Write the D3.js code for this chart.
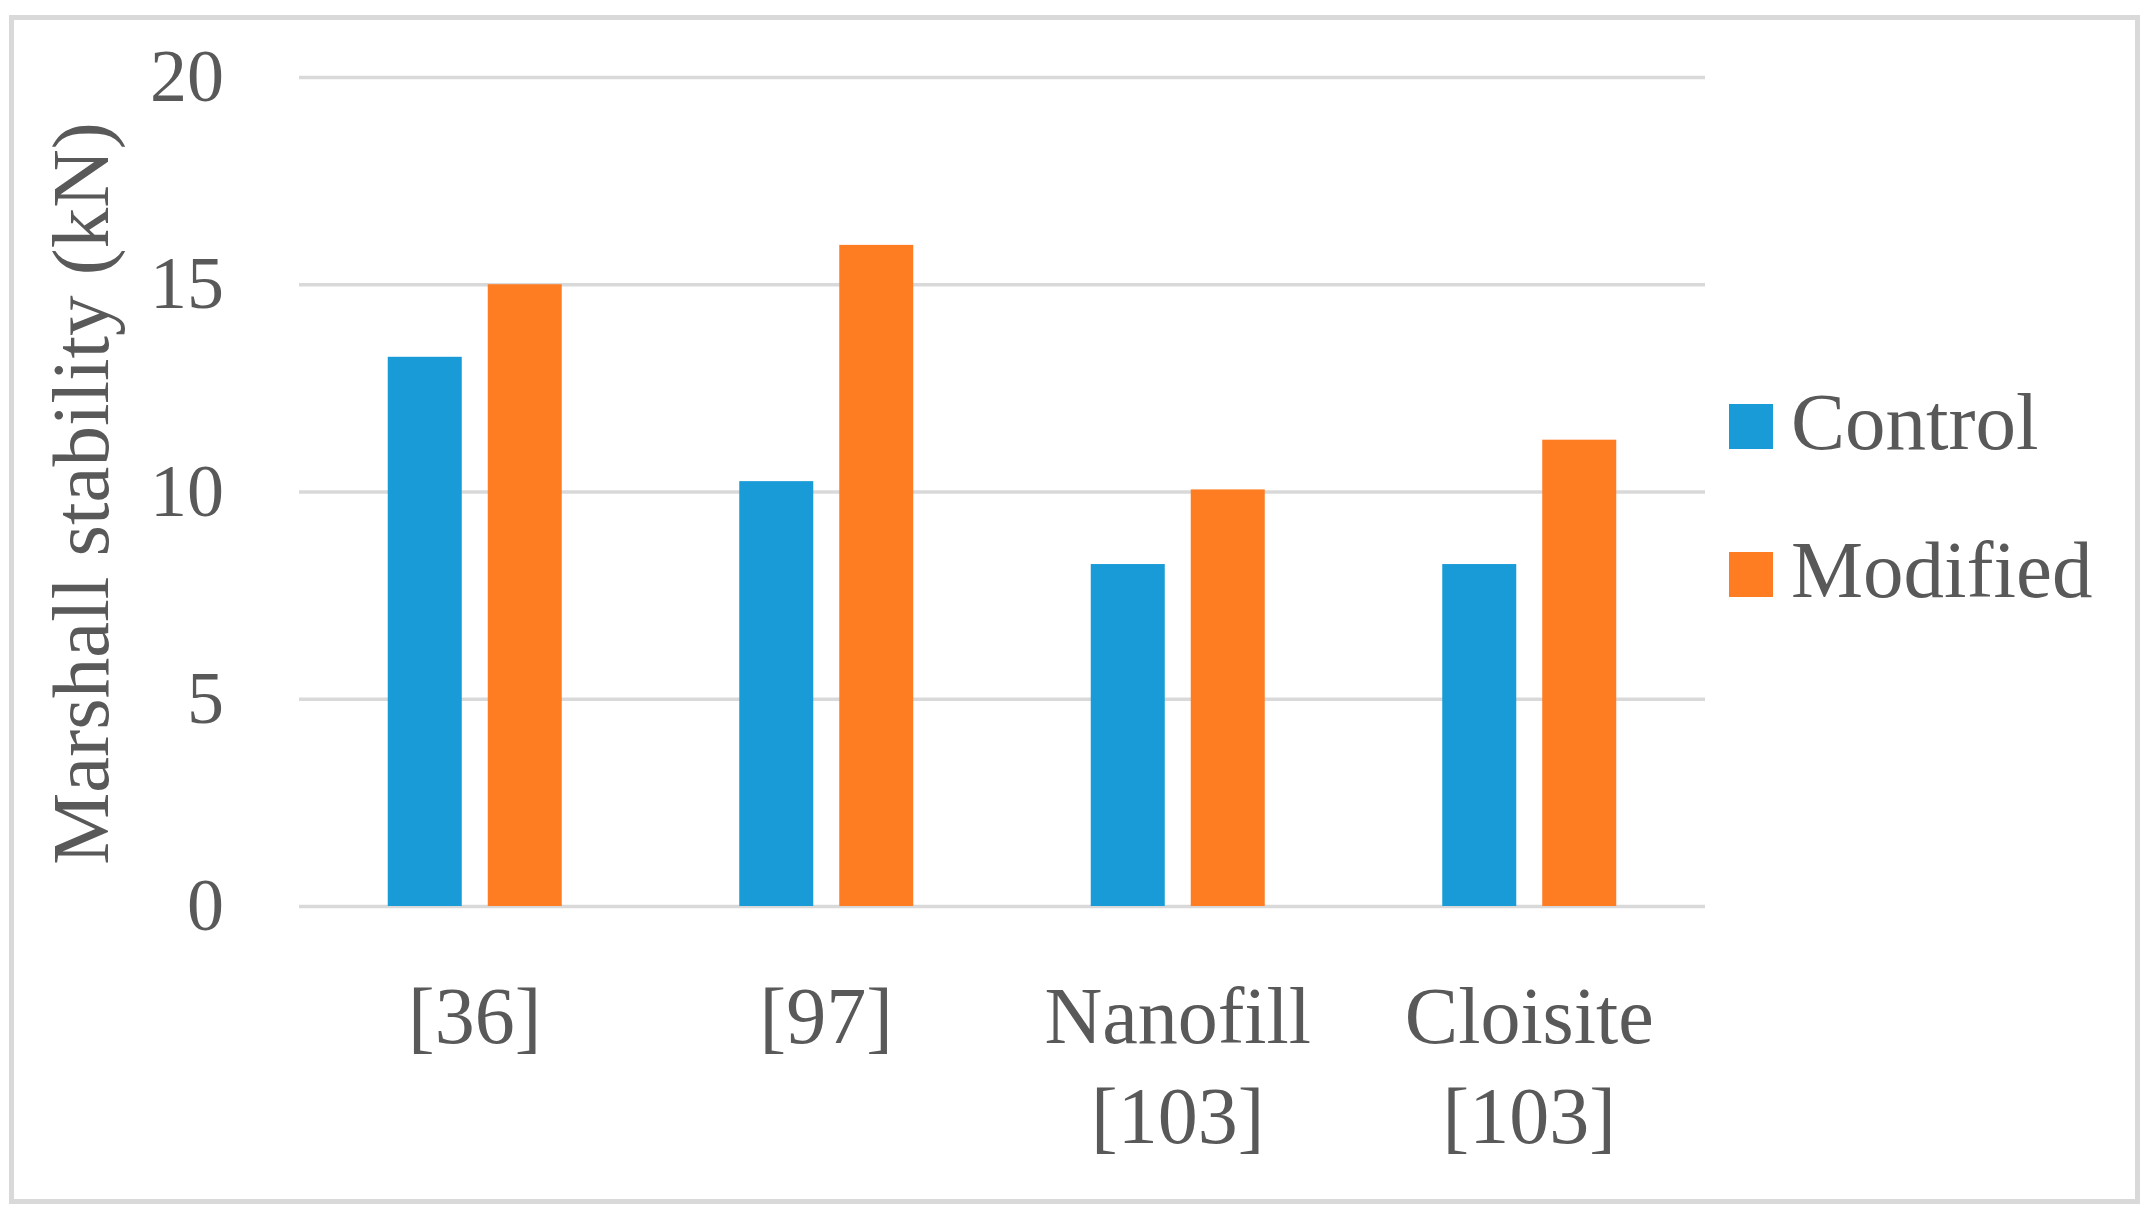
<!DOCTYPE html>
<html>
<head>
<meta charset="utf-8">
<script src="https://cdn.jsdelivr.net/npm/d3@7"></script>
<style>
  html, body { margin: 0; padding: 0; background: #ffffff; }
  svg { display: block; }
  text { font-family: "Liberation Serif", "DejaVu Serif", serif; fill: #595959; }
</style>
</head>
<body>
<svg id="chart" width="2153" height="1222"></svg>
<script>
const categories = [["[36]"], ["[97]"], ["Nanofill", "[103]"], ["Cloisite", "[103]"]];
const categoryKeys = ["[36]", "[97]", "Nanofill [103]", "Cloisite [103]"];
const seriesNames = ["Control", "Modified"];
const controlValues = [13.25, 10.25, 8.25, 8.25];
const modifiedValues = [15.0, 15.95, 10.05, 11.25];
const yTicks = [0, 5, 10, 15, 20];
const yTitle = "Marshall stability (kN)";
const colors = ["#189BD7", "#FF7D22"];

const seriesValues = [controlValues, modifiedValues];
const svg = d3.select("#chart");

// outer frame
svg.append("rect")
  .attr("x", 11.5).attr("y", 17.5)
  .attr("width", 2126).attr("height", 1184)
  .attr("fill", "#ffffff")
  .attr("stroke", "#d9d9d9").attr("stroke-width", 5);

const plotLeft = 299, plotRight = 1705, plotTop = 77, plotBottom = 906;

const x0 = d3.scaleBand().domain(categoryKeys).range([plotLeft, plotRight])
  .paddingInner(0.505).paddingOuter(0.2525);
const x1 = d3.scaleBand().domain(seriesNames).range([0, x0.bandwidth()])
  .paddingInner(0.26).paddingOuter(0);
const y = d3.scaleLinear().domain([0, 20]).range([plotBottom, plotTop]);

// gridlines
const yAxis = d3.axisLeft(y).tickValues(yTicks).tickSize(-(plotRight - plotLeft)).tickPadding(75).tickFormat(d3.format("d"));
const gy = svg.append("g").attr("transform", `translate(${plotLeft},0)`).call(yAxis);
gy.select(".domain").remove();
gy.selectAll(".tick line").attr("stroke", "#d9d9d9").attr("stroke-width", 3.5);
gy.selectAll(".tick text")
  .attr("font-size", 74)
  .attr("fill", "#595959")
  .attr("font-family", "Liberation Serif, DejaVu Serif, serif")
  .attr("dy", "0.32em");

// bars
const groups = svg.append("g").selectAll("g")
  .data(categoryKeys)
  .join("g")
  .attr("transform", d => `translate(${x0(d)},0)`);

groups.selectAll("rect")
  .data((d, i) => seriesNames.map((s, j) => ({ s, v: seriesValues[j][i], j })))
  .join("rect")
  .attr("x", d => x1(d.s))
  .attr("width", x1.bandwidth())
  .attr("y", d => y(d.v))
  .attr("height", d => y(0) - y(d.v))
  .attr("fill", d => colors[d.j]);

// category labels
const catG = svg.append("g");
categoryKeys.forEach((k, i) => {
  const t = catG.append("text")
    .attr("x", x0(k) + x0.bandwidth() / 2)
    .attr("y", 1043)
    .attr("text-anchor", "middle")
    .attr("font-size", 80);
  categories[i].forEach((line, li) => {
    t.append("tspan")
      .attr("x", x0(k) + x0.bandwidth() / 2)
      .attr("dy", li === 0 ? 0 : 100)
      .text(line);
  });
});

// y-axis title
svg.append("text")
  .attr("transform", `translate(108,${(plotTop + plotBottom) / 2 + 2}) rotate(-90)`)
  .attr("text-anchor", "middle")
  .attr("font-size", 81)
  .text(yTitle);

// legend
const legend = svg.append("g");
const legendY = [449, 597];
seriesNames.forEach((s, i) => {
  legend.append("rect")
    .attr("x", 1729).attr("y", legendY[i] - 45)
    .attr("width", 44).attr("height", 45)
    .attr("fill", colors[i]);
  legend.append("text")
    .attr("x", 1791).attr("y", legendY[i])
    .attr("font-size", 81)
    .text(s);
});
</script>
</body>
</html>
